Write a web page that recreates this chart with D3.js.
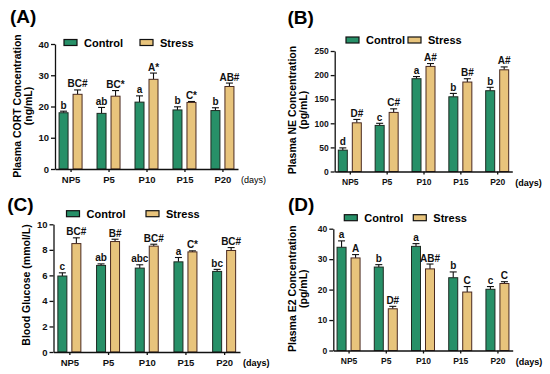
<!DOCTYPE html>
<html>
<head>
<meta charset="utf-8">
<script src="https://cdn.jsdelivr.net/npm/d3@7"></script>
<style>
  body { margin: 0; background: #fff; }
  svg { display: block; font-family: "Liberation Sans", Arial, sans-serif; }
</style>
</head>
<body>
<svg id="chart" width="550" height="374"></svg>
<script>
// Categories (postnatal days)
const days = ["NP5", "P5", "P10", "P15", "P20"];

// Panel A - Plasma CORT (ng/mL)
const cortControl = [18.0, 17.8, 21.4, 18.9, 18.7];
const cortControlErr = [0.5, 1.9, 2.0, 1.0, 0.9];
const cortStress = [23.9, 23.3, 28.7, 21.3, 26.4];
const cortStressErr = [1.4, 1.8, 2.0, 0.3, 1.1];
const cortControlSig = ["b", "ab", "a", "b", "b"];
const cortStressSig = ["BC#", "BC*", "A*", "C*", "AB#"];
const cortTicks = [0, 10, 20, 30, 40];

// Panel B - Plasma NE (pg/mL)
const neControl = [44.3, 95.6, 192.5, 155, 167.6];
const neControlErr = [4.7, 4.4, 4.5, 7, 7];
const neStress = [101, 122.6, 218, 185.6, 211];
const neStressErr = [7, 7.4, 6, 6.9, 6];
const neControlSig = ["d", "c", "a", "b", "b"];
const neStressSig = ["D#", "C#", "A#", "B#", "A#"];
const neTicks = [0, 50, 100, 150, 200, 250];

// Panel C - Blood glucose (mmol/L)
const gluControl = [5.95, 6.78, 6.57, 7.06, 6.31];
const gluControlErr = [0.25, 0.12, 0.26, 0.34, 0.16];
const gluStress = [8.49, 8.65, 8.29, 7.84, 7.95];
const gluStressErr = [0.45, 0.18, 0.15, 0.08, 0.23];
const gluControlSig = ["c", "ab", "abc", "a", "bc"];
const gluStressSig = ["BC#", "B#", "BC#", "C*", "BC#"];
const gluTicks = [0, 2, 4, 6, 8, 10];

// Panel D - Plasma E2 (pg/mL)
const e2Control = [33.9, 27.4, 34.2, 23.9, 20.1];
const e2ControlErr = [2.1, 0.8, 0.9, 1.9, 0.9];
const e2Stress = [30.4, 13.7, 26.8, 19.2, 22.0];
const e2StressErr = [1.1, 0.8, 1.6, 1.8, 0.6];
const e2ControlSig = ["a", "b", "a", "b", "c"];
const e2StressSig = ["A", "D#", "AB#", "C", "C"];
const e2Ticks = [0, 10, 20, 30, 40];

const controlColor = "#279068";
const stressColor = "#e8c47c";

const svg = d3.select("#chart");

// Layout for each panel (axis frame, titles, legend)
const panels = [
  { tag: "(A)", tagX: 10, tagY: 23, x0: 55, x1: 238, yTop: 44, yBot: 169, ticks: cortTicks,
    title: ["Plasma CORT Concentration", "(ng/mL)"], titleX: 20.5, titleY: 106,
    legX: 64, legY: 42.5, stressX: 140, daysBold: false, fs: 9.5,
    control: cortControl, controlErr: cortControlErr, stress: cortStress, stressErr: cortStressErr,
    controlSig: cortControlSig, stressSig: cortStressSig },
  { tag: "(B)", tagX: 287.5, tagY: 23.5, x0: 334.7, x1: 512.3, yTop: 51, yBot: 171.5, ticks: neTicks,
    title: ["Plasma NE Concentration", "(pg/mL)"], titleX: 295.6, titleY: 110,
    legX: 346, legY: 40, stressX: 408, daysBold: true, fs: 8.5,
    control: neControl, controlErr: neControlErr, stress: neStress, stressErr: neStressErr,
    controlSig: neControlSig, stressSig: neStressSig },
  { tag: "(C)", tagX: 7.3, tagY: 210.6, x0: 53.5, x1: 240, yTop: 224.3, yBot: 352, ticks: gluTicks,
    title: ["Blood Glucose (mmol/L)"], titleX: 30.3, titleY: 285,
    legX: 66.5, legY: 213.7, stressX: 146, daysBold: true, fs: 9.5,
    control: gluControl, controlErr: gluControlErr, stress: gluStress, stressErr: gluStressErr,
    controlSig: gluControlSig, stressSig: gluStressSig },
  { tag: "(D)", tagX: 288, tagY: 211, x0: 333.3, x1: 512.7, yTop: 228.7, yBot: 350.5, ticks: e2Ticks,
    title: ["Plasma E2 Concentration", "(pg/mL)"], titleX: 295.6, titleY: 288.7,
    legX: 344.3, legY: 217.7, stressX: 413.3, daysBold: true, fs: 8.5,
    control: e2Control, controlErr: e2ControlErr, stress: e2Stress, stressErr: e2StressErr,
    controlSig: e2ControlSig, stressSig: e2StressSig }
];

const barW = 9;
const barOff = 7;

panels.forEach(p => {
  const g = svg.append("g");

  // Scales
  const x = d3.scalePoint().domain(days).range([p.x0, p.x1]).padding(0.41);
  const y = d3.scaleLinear().domain([0, d3.max(p.ticks)]).range([p.yBot, p.yTop]);

  // Panel tag
  g.append("text")
    .attr("x", p.tagX).attr("y", p.tagY)
    .style("font-size", "19px").style("font-weight", "bold")
    .text(p.tag);

  // Series definitions
  const series = [
    { vals: p.control, errs: p.controlErr, sig: p.controlSig, dx: -barOff, fill: controlColor, stroke: "#1d2a22" },
    { vals: p.stress, errs: p.stressErr, sig: p.stressSig, dx: barOff, fill: stressColor, stroke: "#4a2a20" }
  ];

  series.forEach(s => {
    const data = days.map((d, i) => ({ day: d, v: s.vals[i], e: s.errs[i], sig: s.sig[i] }));

    // Error bars (upper only)
    g.selectAll(null).data(data).enter().append("line")
      .attr("x1", d => x(d.day) + s.dx).attr("x2", d => x(d.day) + s.dx)
      .attr("y1", d => y(d.v)).attr("y2", d => y(d.v + d.e))
      .attr("stroke", "#111").attr("stroke-width", 1.1);
    g.selectAll(null).data(data).enter().append("line")
      .attr("x1", d => x(d.day) + s.dx - 3.5).attr("x2", d => x(d.day) + s.dx + 3.5)
      .attr("y1", d => y(d.v + d.e)).attr("y2", d => y(d.v + d.e))
      .attr("stroke", "#111").attr("stroke-width", 1.1);

    // Bars
    g.selectAll(null).data(data).enter().append("rect")
      .attr("x", d => x(d.day) + s.dx - barW / 2)
      .attr("width", barW)
      .attr("y", d => y(d.v))
      .attr("height", d => y(0) - y(d.v))
      .attr("fill", s.fill)
      .attr("stroke", s.stroke)
      .attr("stroke-width", 1);

    // Significance letters
    g.selectAll(null).data(data).enter().append("text")
      .attr("x", d => x(d.day) + s.dx)
      .attr("y", d => y(d.v + d.e) - 2.5)
      .attr("text-anchor", "middle")
      .style("font-size", "10px").style("font-weight", "bold")
      .attr("fill", "#111")
      .text(d => d.sig);
  });

  // Y axis
  const yAxis = g.append("g")
    .attr("transform", "translate(" + p.x0 + ",0)")
    .call(d3.axisLeft(y).tickValues(p.ticks).tickSize(4).tickSizeOuter(0).tickPadding(2));
  yAxis.selectAll("text").style("font-size", p.fs + "px").style("font-weight", "bold").attr("fill", "#111");

  // X axis
  const xAxis = g.append("g")
    .attr("transform", "translate(0," + p.yBot + ")")
    .call(d3.axisBottom(x).tickSize(3).tickSizeOuter(0).tickPadding(4.5));
  xAxis.selectAll("text").style("font-size", p.fs + "px").style("font-weight", "bold").attr("fill", "#111");

  g.selectAll(".domain, .tick line").attr("stroke", "#111").attr("stroke-width", 1.3);

  // Unit label after axis
  g.append("text")
    .attr("x", p.x1 + 3).attr("y", p.yBot + 14)
    .style("font-size", "9px")
    .style("font-weight", p.daysBold ? "bold" : "normal")
    .text("(days)");

  // Y title (rotated)
  p.title.forEach((t, i) => {
    g.append("text")
      .attr("transform", "translate(" + (p.titleX + i * 11) + "," + p.titleY + ") rotate(-90)")
      .attr("text-anchor", "middle")
      .style("font-size", "10.5px").style("font-weight", "bold")
      .text(t);
  });

  // Legend
  const legend = [
    { name: "Control", lx: p.legX, fill: controlColor },
    { name: "Stress", lx: p.stressX, fill: stressColor }
  ];
  legend.forEach(l => {
    g.append("rect")
      .attr("x", l.lx).attr("y", p.legY - 3)
      .attr("width", 13).attr("height", 6)
      .attr("fill", l.fill).attr("stroke", "#111").attr("stroke-width", 1.2);
    g.append("text")
      .attr("x", l.lx + 20).attr("y", p.legY + 4)
      .style("font-size", "11px").style("font-weight", "bold")
      .text(l.name);
  });
});
</script>
</body>
</html>
